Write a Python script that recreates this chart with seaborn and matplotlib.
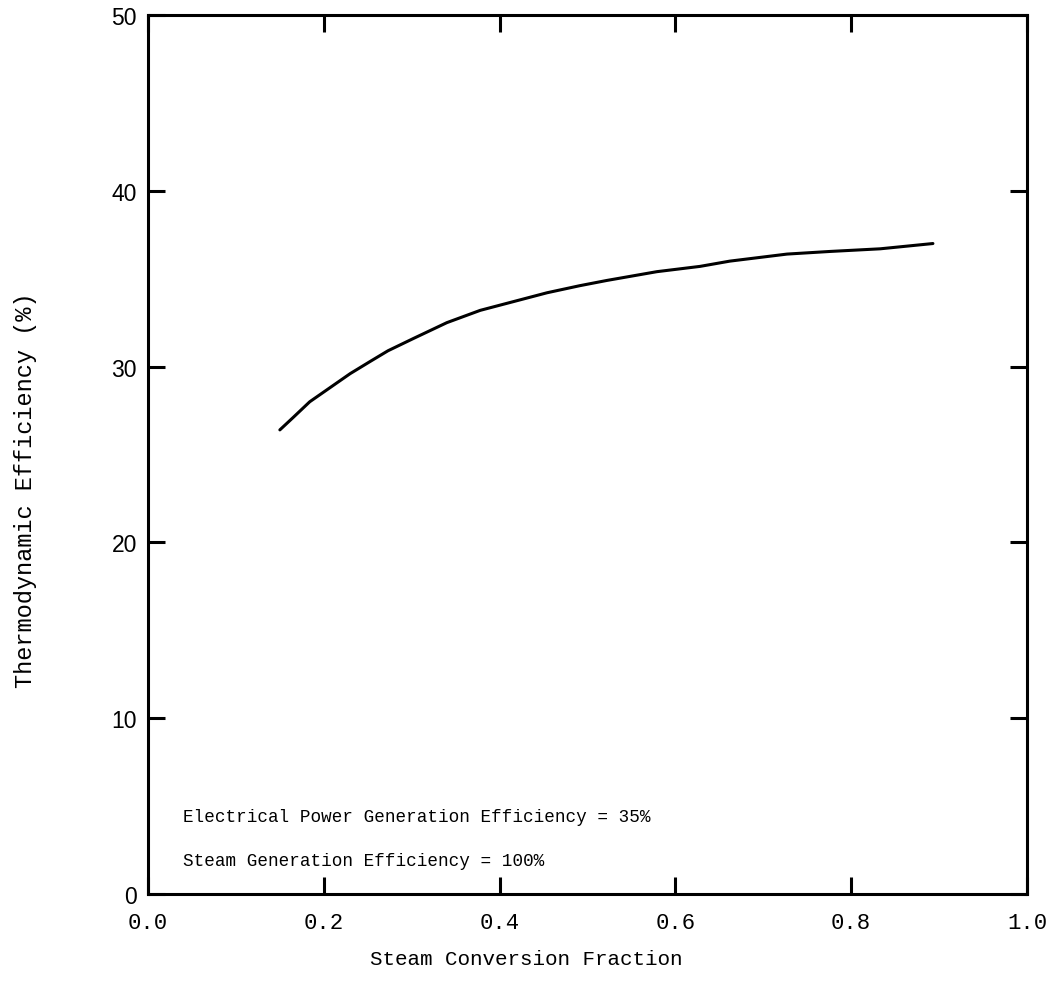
import matplotlib
matplotlib.use('Agg')
import matplotlib.pyplot as plt
import seaborn as sns
import pandas as pd

# values
steam_fraction = [0.150, 0.165, 0.184, 0.207, 0.230, 0.253, 0.273, 0.302, 0.340,
                  0.378, 0.416, 0.454, 0.491, 0.522, 0.579, 0.628, 0.662, 0.727,
                  0.776, 0.833, 0.893]
efficiency = [26.4, 27.1, 28.0, 28.8, 29.6, 30.3, 30.9, 31.6, 32.5,
              33.2, 33.7, 34.2, 34.6, 34.9, 35.4, 35.7, 36.0, 36.4,
              36.55, 36.7, 37.0]

x_ticks = [0.0, 0.2, 0.4, 0.6, 0.8, 1.0]
x_tick_labels = ['0.0', '0.2', '0.4', '0.6', '0.8', '1.0']
y_ticks = [0, 10, 20, 30, 40, 50]
y_tick_labels = ['0', '10', '20', '30', '40', '50']
notes = ['Electrical Power Generation Efficiency = 35%',
         'Steam Generation Efficiency = 100%']

sns.set_theme(style='ticks')
mono = ['Liberation Mono', 'DejaVu Sans Mono']
sans = ['Liberation Sans', 'DejaVu Sans']

df = pd.DataFrame({'frac': steam_fraction, 'eff': efficiency})

fig = plt.figure(figsize=(10.52, 9.87), dpi=100)
ax = fig.add_axes([0.1407, 0.0932, 0.8355, 0.8906])
sns.lineplot(data=df, x='frac', y='eff', color='black', linewidth=2.2, ax=ax,
             solid_joinstyle='round', solid_capstyle='round')

ax.set_xlim(0, 1.0)
ax.set_ylim(0, 50)
ax.set_xticks(x_ticks)
ax.set_xticklabels(x_tick_labels, fontfamily=mono, fontsize=16)
ax.set_yticks(y_ticks)
ax.set_yticklabels(y_tick_labels, fontfamily=sans, fontsize=16.5)
ax.tick_params(direction='in', length=12, width=2.2, top=True, right=True,
               color='black', labelcolor='black')
ax.tick_params(axis='x', pad=13)
ax.tick_params(axis='y', pad=8)
for s in ax.spines.values():
    s.set_linewidth(2.2)
    s.set_color('black')

ax.set_xlabel('Steam Conversion Fraction', fontfamily=mono, fontsize=15, color='black')
ax.set_ylabel('Thermodynamic Efficiency (%)', fontfamily=mono, fontsize=17, color='black')
ax.xaxis.set_label_coords(0.43, -0.062)
ax.yaxis.set_label_coords(-0.126, 0.461)

ax.text(0.04, 4.4, notes[0], fontfamily=mono, fontsize=12.7, va='center', color='black')
ax.text(0.04, 1.9, notes[1], fontfamily=mono, fontsize=12.7, va='center', color='black')

fig.savefig('out.png', dpi=100, facecolor='white')
